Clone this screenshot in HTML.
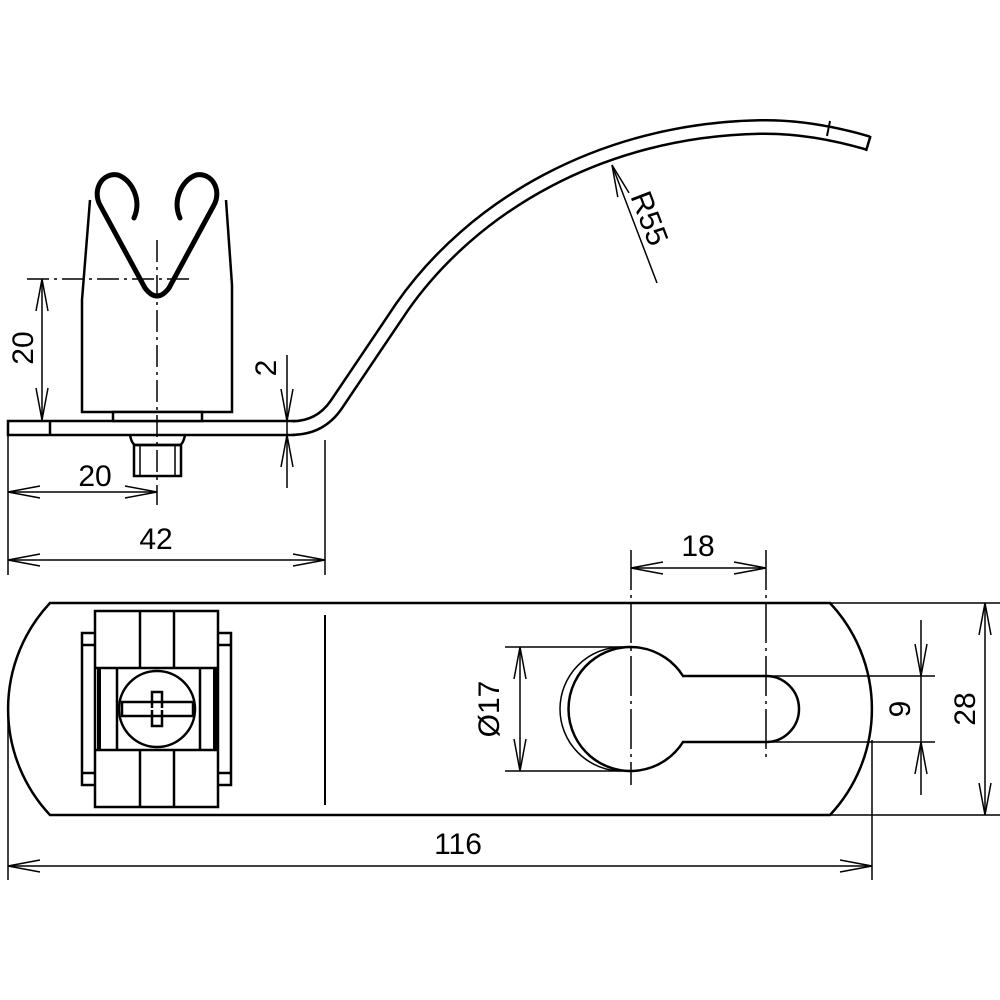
<!DOCTYPE html>
<html><head><meta charset="utf-8"><style>html,body{margin:0;padding:0;background:#fff}svg{display:block}</style></head><body>
<svg width="1000" height="1000" viewBox="0 0 1000 1000" xmlns="http://www.w3.org/2000/svg" font-family="Liberation Sans, sans-serif" font-size="30" fill="none" stroke="#000">
<!-- curved arm -->
<path d="M280,428 L292,428 Q320,428 336,405 L402,307 C472,207 600,130 760,127 Q810,126 868,143" stroke="#000" stroke-width="16"/>
<path d="M280,428 L292,428 Q320,428 336,405 L402,307 C472,207 600,130 760,127 Q810,126 868,143" stroke="#fff" stroke-width="11"/>
<line x1="870.5" y1="136" x2="866" y2="151" stroke-width="2.5"/>
<line x1="830" y1="121" x2="827" y2="136" stroke-width="2"/>
<!-- strip -->
<rect x="8" y="421" width="286" height="14" fill="#fff" stroke-width="2.5"/>
<rect x="280" y="422.5" width="16" height="11" fill="#fff" stroke="none"/>
<line x1="50" y1="421" x2="50" y2="435" stroke-width="2.5"/>
<!-- body -->
<path d="M90,200 L82,300 L82,412 L232,412 L232,285 L226,200" stroke-width="2.5" fill="#fff"/>
<rect x="113" y="412" width="89" height="9" stroke-width="2.5" fill="#fff"/>
<path d="M130,435 Q132,445 136,445 L179,445 Q183,445 185,435" stroke-width="2.5"/>
<rect x="134" y="445" width="47" height="31" stroke-width="2.5"/>
<line x1="140" y1="445" x2="140" y2="476" stroke-width="1.5"/>
<line x1="175" y1="445" x2="175" y2="476" stroke-width="1.5"/>
<!-- V spring -->
<path d="M134,218 C142,200 132,180 118,175 C102,172 92,190 100,205 L145,288 Q157,304 169,288 L214,205 C222,190 212,172 196,175 C182,180 172,200 180,218" stroke-width="5" stroke-linecap="round"/>
<!-- centerlines -->
<line x1="157" y1="240" x2="157" y2="505" stroke-width="1.5" stroke-dasharray="22,5,3,5"/>
<line x1="27" y1="279" x2="193" y2="279" stroke-width="1.5" stroke-dasharray="22,5,3,5"/>
<!-- dims front -->
<g stroke-width="1.5">
<line x1="42" y1="279" x2="42" y2="420"/>
<polyline points="36,311 42,279 48,311"/><polyline points="36,388 42,420 48,388"/>
<line x1="287" y1="355" x2="287" y2="488"/>
<polyline points="281,389 287,421 293,389"/><polyline points="281,467 287,435 293,467"/>
<line x1="8" y1="435" x2="8" y2="575"/>
<line x1="325" y1="440" x2="325" y2="575"/>
<line x1="8" y1="492" x2="157" y2="492"/>
<polyline points="40,486 8,492 40,498"/><polyline points="125,486 157,492 125,498"/>
<line x1="8" y1="560" x2="325" y2="560"/>
<polyline points="40,554 8,560 40,566"/><polyline points="293,554 325,560 293,566"/>
<line x1="612" y1="165" x2="657" y2="283"/>
<polyline points="617.8,197.1 612,165 629,192.9"/>
</g>
<g fill="#000" stroke="none">
<text x="95" y="486" text-anchor="middle">20</text>
<text x="156" y="549" text-anchor="middle">42</text>
<text transform="translate(33,348) rotate(-90)" text-anchor="middle">20</text>
<text transform="translate(276,368) rotate(-90)" text-anchor="middle">2</text>
<text transform="translate(640,222) rotate(69)" text-anchor="middle">R55</text>
<text x="698" y="556" text-anchor="middle">18</text>
<text transform="translate(499,709) rotate(-90)" text-anchor="middle">Ø17</text>
<text transform="translate(910,709) rotate(-90)" text-anchor="middle">9</text>
<text transform="translate(975,709) rotate(-90)" text-anchor="middle">28</text>
<text x="458" y="854" text-anchor="middle">116</text>
</g>
<!-- bottom view outline -->
<path d="M50,603 L830,603 A155,155 0 0 1 830,815 L50,815 A155,155 0 0 1 50,603 Z" stroke-width="2.5"/>
<line x1="325" y1="615" x2="325" y2="805" stroke-width="2"/>
<!-- terminal -->
<g stroke-width="2.5">
<rect x="95" y="611" width="123" height="196"/>
<line x1="95" y1="668" x2="218" y2="668"/><line x1="95" y1="750" x2="218" y2="750"/>
<line x1="140" y1="611" x2="140" y2="668"/><line x1="174" y1="611" x2="174" y2="668"/>
<line x1="140" y1="750" x2="140" y2="807"/><line x1="174" y1="750" x2="174" y2="807"/>
<line x1="99" y1="668" x2="99" y2="750" stroke-width="4"/><line x1="215" y1="668" x2="215" y2="750" stroke-width="4"/>
<line x1="117" y1="668" x2="117" y2="750"/><line x1="200" y1="668" x2="200" y2="750"/>
<path d="M95,633 L82,633 L82,785 L95,785"/><path d="M218,633 L231,633 L231,785 L218,785"/>
<line x1="82" y1="645" x2="95" y2="645"/><line x1="82" y1="773" x2="95" y2="773"/>
<line x1="218" y1="645" x2="231" y2="645"/><line x1="218" y1="773" x2="231" y2="773"/>
<circle cx="157" cy="709" r="38"/>
<rect x="122" y="702" width="71" height="14"/>
<rect x="152" y="692" width="10" height="34"/>
</g>
<line x1="146" y1="709" x2="168" y2="709" stroke="#fff" stroke-width="2"/>
<!-- keyhole -->
<path d="M683,676 L766,676 A33,33 0 0 1 766,742 L683,742 A62,62 0 1 1 683,676 Z" stroke-width="2.5"/>
<path d="M625,771 A62,62 0 0 1 625,647" stroke-width="1.5" transform="translate(-3,0)"/>
<g stroke-width="1.5">
<line x1="631" y1="550" x2="631" y2="785" stroke-dasharray="40,5,3,5"/>
<line x1="766" y1="550" x2="766" y2="757" stroke-dasharray="40,5,3,5"/>
<line x1="631" y1="568" x2="766" y2="568"/>
<polyline points="663,562 631,568 663,574"/><polyline points="734,562 766,568 734,574"/>
<line x1="505" y1="647" x2="631" y2="647"/><line x1="505" y1="771" x2="631" y2="771"/>
<line x1="520" y1="647" x2="520" y2="771"/>
<polyline points="514,679 520,647 526,679"/><polyline points="514,739 520,771 526,739"/>
<line x1="766" y1="676" x2="935" y2="676"/><line x1="766" y1="742" x2="935" y2="742"/>
<line x1="921" y1="620" x2="921" y2="795"/>
<polyline points="915,644 921,676 927,644"/><polyline points="915,774 921,742 927,774"/>
<line x1="830" y1="603" x2="1000" y2="603"/><line x1="830" y1="815" x2="1000" y2="815"/>
<line x1="985" y1="603" x2="985" y2="815"/>
<polyline points="979,635 985,603 991,635"/><polyline points="979,783 985,815 991,783"/>
<line x1="8" y1="710" x2="8" y2="880"/><line x1="872" y1="740" x2="872" y2="880"/>
<line x1="8" y1="866" x2="872" y2="866"/>
<polyline points="40,860 8,866 40,872"/><polyline points="840,860 872,866 840,872"/>
</g>
</svg>
</body></html>
